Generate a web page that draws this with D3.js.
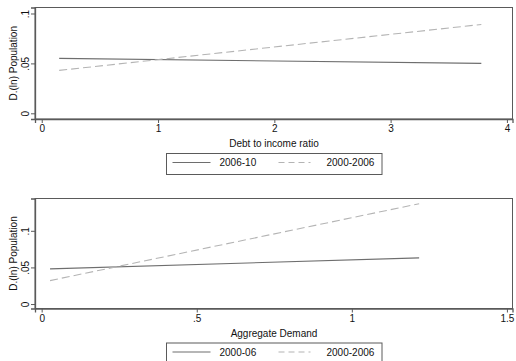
<!DOCTYPE html>
<html>
<head>
<meta charset="utf-8">
<script src="https://cdn.jsdelivr.net/npm/d3@7"></script>
<style>
  body { margin: 0; background: #fff; }
  svg { display: block; font-family: "Liberation Sans", Arial, sans-serif; }
</style>
</head>
<body>
<svg></svg>
<script>
// data (each fit is a straight line: two endpoints)
const topX = [0.15, 3.78];
const topSolid = [0.055, 0.050];
const topDashed = [0.043, 0.089];
const topNames = ['2006-10', '2000-2006'];
const topXTicks = [0, 1, 2, 3, 4];
const topXLabels = ['0', '1', '2', '3', '4'];

const botX = [0.027, 1.217];
const botSolid = [0.048, 0.063];
const botDashed = [0.032, 0.137];
const botNames = ['2000-06', '2000-2006'];
const botXTicks = [0, 0.5, 1, 1.5];
const botXLabels = ['0', '.5', '1', '1.5'];

const yTicks = [0, 0.05, 0.1];
const yLabels = ['0', '.05', '.1'];

const width = 516;
const height = 361;

let svg = d3.select('svg').attr('width', width).attr('height', height);

function drawPanel(p) {
    let xScale = d3.scaleLinear().domain(p.xDomain).range([35, 512.5]);
    let yScale = d3.scaleLinear().domain(p.yDomain).range([p.bottom, p.top]);
    let g = svg.append('g');

    // frame
    g.append('rect')
        .attr('x', 35).attr('y', p.top)
        .attr('width', 512.5 - 35).attr('height', p.bottom - p.top)
        .attr('fill', 'none').attr('stroke', '#5a5a5a').attr('stroke-width', 1);

    let xAxis = d3.axisBottom(xScale)
        .tickValues(p.xTicks)
        .tickFormat((d, i) => p.xLabels[i])
        .tickSize(4).tickPadding(2);
    let gx = g.append('g')
        .attr('transform', 'translate(0,' + p.bottom + ')')
        .call(xAxis);
    gx.select('.domain').attr('stroke', '#5a5a5a').attr('stroke-width', 1.3);
    gx.selectAll('.tick line').attr('stroke', '#5a5a5a');
    gx.selectAll('.tick text').attr('fill', '#111').style('font-size', '10px');

    let yAxis = d3.axisLeft(yScale)
        .tickValues(yTicks)
        .tickFormat((d, i) => yLabels[i])
        .tickSize(4);
    let gy = g.append('g')
        .attr('transform', 'translate(35,0)')
        .call(yAxis);
    gy.select('.domain').attr('stroke', '#5a5a5a').attr('stroke-width', 1.3);
    gy.selectAll('.tick line').attr('stroke', '#5a5a5a');
    gy.selectAll('.tick text')
        .attr('fill', '#111').style('font-size', '10px')
        .attr('x', null).attr('dy', null)
        .attr('text-anchor', 'middle')
        .attr('transform', 'translate(-6,0) rotate(-90)');

    // titles
    g.append('text')
        .attr('x', 274).attr('y', p.bottom + 28)
        .attr('text-anchor', 'middle').attr('fill', '#111')
        .style('font-size', '10px')
        .text(p.xTitle);
    g.append('text')
        .attr('transform', 'translate(17,' + ((p.top + p.bottom) / 2) + ') rotate(-90)')
        .attr('text-anchor', 'middle').attr('fill', '#111')
        .style('font-size', '10px')
        .text('D.(ln) Population');

    // fitted lines
    let line = d3.line()
        .x((d, i) => xScale(p.x[i]))
        .y(d => yScale(d));
    g.append('path').datum(p.solid)
        .attr('d', line).attr('fill', 'none')
        .attr('stroke', '#6e6e6e').attr('stroke-width', 1.1);
    g.append('path').datum(p.dashed)
        .attr('d', line).attr('fill', 'none')
        .attr('stroke', '#b4b4b4').attr('stroke-width', 1.1)
        .attr('stroke-dasharray', '8,4');

    // legend
    let ly = p.bottom + 34.5;
    let lg = g.append('g').attr('transform', 'translate(166.5,' + ly + ')');
    lg.append('rect')
        .attr('width', 215.5).attr('height', 21)
        .attr('fill', '#fff').attr('stroke', '#5a5a5a').attr('stroke-width', 1);
    lg.append('line')
        .attr('x1', 6).attr('x2', 44).attr('y1', 9).attr('y2', 9)
        .attr('stroke', '#6e6e6e').attr('stroke-width', 1.1);
    lg.append('text')
        .attr('x', 53).attr('y', 12.5).attr('fill', '#111')
        .style('font-size', '10px').text(p.names[0]);
    lg.append('line')
        .attr('x1', 112).attr('x2', 144).attr('y1', 9).attr('y2', 9)
        .attr('stroke', '#b4b4b4').attr('stroke-width', 1.1)
        .attr('stroke-dasharray', '6,4');
    lg.append('text')
        .attr('x', 160).attr('y', 12.5).attr('fill', '#111')
        .style('font-size', '10px').text(p.names[1]);
}

drawPanel({
    top: 7.5, bottom: 119,
    xDomain: [-0.058, 4.048], yDomain: [-0.0057, 0.106],
    xTicks: topXTicks, xLabels: topXLabels,
    x: topX, solid: topSolid, dashed: topDashed,
    names: topNames, xTitle: 'Debt to income ratio'
});

drawPanel({
    top: 198.5, bottom: 308.5,
    xDomain: [-0.0215, 1.518], yDomain: [-0.0061, 0.1441],
    xTicks: botXTicks, xLabels: botXLabels,
    x: botX, solid: botSolid, dashed: botDashed,
    names: botNames, xTitle: 'Aggregate Demand'
});
</script>
</body>
</html>
